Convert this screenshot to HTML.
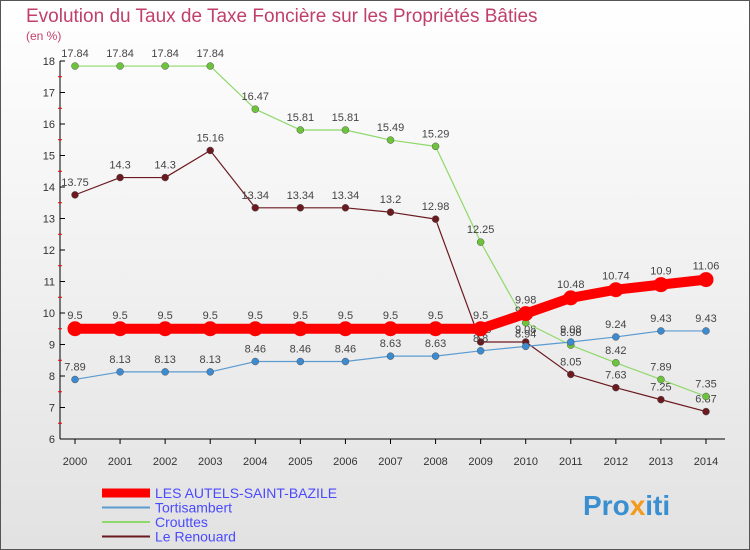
<!DOCTYPE html>
<html><head><meta charset="utf-8"><style>
body{margin:0;width:750px;height:550px;overflow:hidden;font-family:"Liberation Sans",sans-serif}
svg{display:block}
</style></head><body>
<svg id="c" width="750" height="550">
<defs><linearGradient id="bg" x1="0" y1="0" x2="0" y2="1"><stop offset="0" stop-color="#ffffff"/><stop offset="1" stop-color="#e2e2e2"/></linearGradient></defs>
<rect x="0.5" y="0.5" width="749" height="549" fill="url(#bg)" stroke="#555"/>
<text x="26" y="22" font-size="19" fill="#c0406a">Evolution du Taux de Taxe Foncière sur les Propriétés Bâties</text>
<text x="26" y="40" font-size="12" fill="#c0406a">(en %)</text>
<g id="axes"></g><g id="series"></g><g id="legend"></g>
<text x="583" y="515" font-size="28" font-weight="bold" fill="#3a8fd0">Pro<tspan fill="#f39a1e">x</tspan>iti</text>
</svg>
<script>
const years=[2000,2001,2002,2003,2004,2005,2006,2007,2008,2009,2010,2011,2012,2013,2014];
const yTicks=[6,7,8,9,10,11,12,13,14,15,16,17,18];
const seriesNames=["LES AUTELS-SAINT-BAZILE","Tortisambert","Crouttes","Le Renouard"];
const autels=[9.5,9.5,9.5,9.5,9.5,9.5,9.5,9.5,9.5,9.5,9.98,10.48,10.74,10.9,11.06];
const tortisambert=[7.89,8.13,8.13,8.13,8.46,8.46,8.46,8.63,8.63,8.8,8.94,9.08,9.24,9.43,9.43];
const crouttes=[17.84,17.84,17.84,17.84,16.47,15.81,15.81,15.49,15.29,12.25,9.69,8.98,8.42,7.89,7.35];
const renouard=[13.75,14.3,14.3,15.16,13.34,13.34,13.34,13.2,12.98,9.08,9.08,8.05,7.63,7.25,6.87];
const NS="http://www.w3.org/2000/svg";
const X=i=>75+i*(706-75)/(years.length-1);
const Y=v=>61+(18-v)*(439-61)/12;
function mk(p,t,a){const e=document.createElementNS(NS,t);for(const k in a)e.setAttribute(k,a[k]);p.appendChild(e);return e;}
const ax=document.getElementById('axes');
let l=mk(ax,'line',{x1:60,y1:Y(18),x2:60,y2:Y(6),stroke:'#000'});


l=mk(ax,'line',{x1:60,y1:Y(6),x2:725,y2:Y(6),stroke:'#000'});


yTicks.forEach(v=>{
 mk(ax,'line',{x1:60,y1:Y(v),x2:65,y2:Y(v),stroke:'#000'});
 if(v<18){mk(ax,'line',{x1:58,y1:Y(v+0.5),x2:62,y2:Y(v+0.5),stroke:'#e00'});}
 const t=mk(ax,'text',{x:55,y:Y(v)+4,'font-size':11,'text-anchor':'end',fill:'#333'});t.textContent=v;
 
 
});
years.forEach((y,i)=>{
 mk(ax,'line',{x1:X(i),y1:Y(6),x2:X(i),y2:Y(6)+5,stroke:'#000'});
 const t=mk(ax,'text',{x:X(i),y:465,'font-size':11,'text-anchor':'middle',fill:'#333'});t.textContent=y;
 
 
});
const sg=document.getElementById('series');
const defs=[
 {d:renouard,c:'#6b1a1f',f:'#6b1a1f',w:1.2,r:3.5,n:'le-renouard'},
 {d:crouttes,c:'#8fd86a',f:'#6cc43a',w:1.2,r:3.5,n:'crouttes'},
 {d:tortisambert,c:'#5b9bd0',f:'#3c8ad0',w:1.2,r:3.5,n:'tortisambert'},
 {d:autels,c:'#ff0000',f:'#ff0000',w:10,r:7.5,n:'les-autels-saint-bazile'}];
defs.forEach(s=>{
 const g=mk(sg,'g',{});
 
 
 const p=mk(g,'polyline',{points:s.d.map((v,i)=>X(i)+','+Y(v)).join(' '),fill:'none',stroke:s.c,'stroke-width':s.w,'stroke-linejoin':'round'});
 
 
 s.d.forEach((v,i)=>{
  const c=mk(g,'circle',{cx:X(i),cy:Y(v),r:s.r,fill:s.f,stroke:s.w>2?'none':'#555','stroke-width':0.5});
  
  
  const t=mk(g,'text',{x:X(i),y:Y(v)-(s.w>2?10:9),'font-size':11,'text-anchor':'middle',fill:'#444'});t.textContent=v;
  
  
 });
});
const lg=document.getElementById('legend');
const lc=['#ff0000','#5b9bd0','#8fd86a','#6b1a1f'],lw=[9,2,2,2];
seriesNames.forEach((n,i)=>{
 const y=493+i*14.5;
 const ln=mk(lg,'line',{x1:102,y1:y,x2:150,y2:y,stroke:lc[i],'stroke-width':lw[i]});
 
 
 const t=mk(lg,'text',{x:155,y:y+5,'font-size':14,fill:'#4a4aff'});t.textContent=n;
 
 
});
</script>
</body></html>
